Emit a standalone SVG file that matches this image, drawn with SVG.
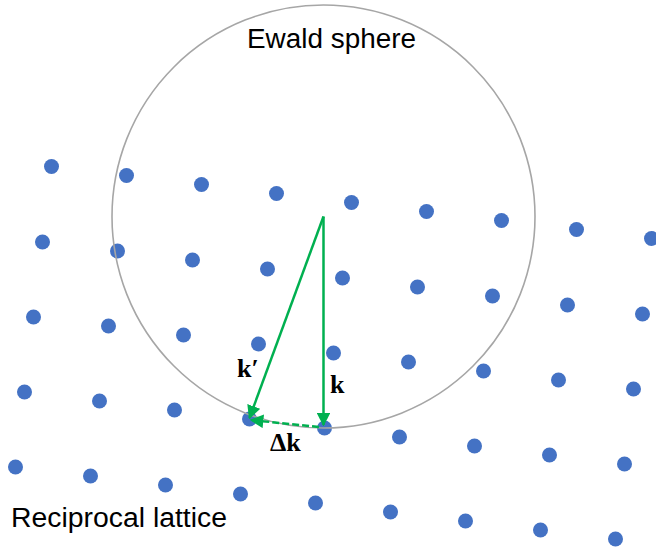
<svg xmlns="http://www.w3.org/2000/svg" width="656" height="549" viewBox="0 0 656 549">
<defs>
<style>
.dot{fill:#4472C4}
.vec{stroke:#00B050;stroke-width:2.5;fill:none}
.lbl{font-family:"Liberation Sans",Arial,sans-serif;font-size:27px;fill:#000}
.math{font-family:"Liberation Serif","DejaVu Serif",serif;font-weight:bold;font-size:26px;fill:#000}
</style>
<marker id="ah" viewBox="0 0 10 10" refX="9" refY="5" markerWidth="5.5" markerHeight="5.5" orient="auto" markerUnits="strokeWidth">
<path d="M0,0 L10,5 L0,10 z" fill="#00B050"/>
</marker>
</defs>
<rect width="656" height="549" fill="#fff"/>
<g id="lattice">
<circle class="dot" cx="51.5" cy="166.5" r="7.5"/><circle class="dot" cx="126.5" cy="175.5" r="7.5"/><circle class="dot" cx="201.5" cy="184.5" r="7.5"/><circle class="dot" cx="276.5" cy="193.5" r="7.5"/><circle class="dot" cx="351.5" cy="202.5" r="7.5"/><circle class="dot" cx="426.5" cy="211.5" r="7.5"/><circle class="dot" cx="501.5" cy="220.5" r="7.5"/><circle class="dot" cx="576.5" cy="229.5" r="7.5"/><circle class="dot" cx="651.5" cy="238.5" r="7.5"/>
<circle class="dot" cx="42.5" cy="242" r="7.5"/><circle class="dot" cx="117.5" cy="251" r="7.5"/><circle class="dot" cx="192.5" cy="260" r="7.5"/><circle class="dot" cx="267.5" cy="269" r="7.5"/><circle class="dot" cx="342.5" cy="278" r="7.5"/><circle class="dot" cx="417.5" cy="287" r="7.5"/><circle class="dot" cx="492.5" cy="296" r="7.5"/><circle class="dot" cx="567.5" cy="305" r="7.5"/><circle class="dot" cx="642.5" cy="314" r="7.5"/>
<circle class="dot" cx="33.5" cy="317" r="7.5"/><circle class="dot" cx="108.5" cy="326" r="7.5"/><circle class="dot" cx="183.5" cy="335" r="7.5"/><circle class="dot" cx="258.5" cy="344" r="7.5"/><circle class="dot" cx="333.5" cy="353" r="7.5"/><circle class="dot" cx="408.5" cy="362" r="7.5"/><circle class="dot" cx="483.5" cy="371" r="7.5"/><circle class="dot" cx="558.5" cy="380" r="7.5"/><circle class="dot" cx="633.5" cy="389" r="7.5"/>
<circle class="dot" cx="24.5" cy="392" r="7.5"/><circle class="dot" cx="99.5" cy="401" r="7.5"/><circle class="dot" cx="174.5" cy="410" r="7.5"/><circle class="dot" cx="249.5" cy="419" r="7.5"/><circle class="dot" cx="324.5" cy="428" r="7.5"/><circle class="dot" cx="399.5" cy="437" r="7.5"/><circle class="dot" cx="474.5" cy="446" r="7.5"/><circle class="dot" cx="549.5" cy="455" r="7.5"/><circle class="dot" cx="624.5" cy="464" r="7.5"/>
<circle class="dot" cx="15.5" cy="467" r="7.5"/><circle class="dot" cx="90.5" cy="476" r="7.5"/><circle class="dot" cx="165.5" cy="485" r="7.5"/><circle class="dot" cx="240.5" cy="494" r="7.5"/><circle class="dot" cx="315.5" cy="503" r="7.5"/><circle class="dot" cx="390.5" cy="512" r="7.5"/><circle class="dot" cx="465.5" cy="521" r="7.5"/><circle class="dot" cx="540.5" cy="530" r="7.5"/><circle class="dot" cx="615.5" cy="539" r="7.5"/>
</g>
<g id="ewald-sphere">
<circle cx="323.5" cy="216.5" r="211.5" fill="none" stroke="#A6A6A6" stroke-width="1.6"/>
<text class="lbl" x="331.5" y="48" text-anchor="middle" textLength="169" lengthAdjust="spacingAndGlyphs">Ewald sphere</text>
</g>
<g id="connectors">
<line class="vec" x1="323.5" y1="216.5" x2="323.5" y2="425" marker-end="url(#ah)"/>
<line class="vec" x1="323.5" y1="216.5" x2="249.5" y2="418" marker-end="url(#ah)"/>
<line class="vec" x1="319" y1="427" x2="251" y2="420" stroke-dasharray="7,3" marker-end="url(#ah)"/>
</g>
<g id="labels">
<text class="math" x="237" y="377">k′</text>
<text class="math" x="330" y="393">k</text>
<text class="math" x="270" y="451">Δk</text>
<text class="lbl" x="11" y="527" textLength="216" lengthAdjust="spacingAndGlyphs">Reciprocal lattice</text>
</g>
</svg>
